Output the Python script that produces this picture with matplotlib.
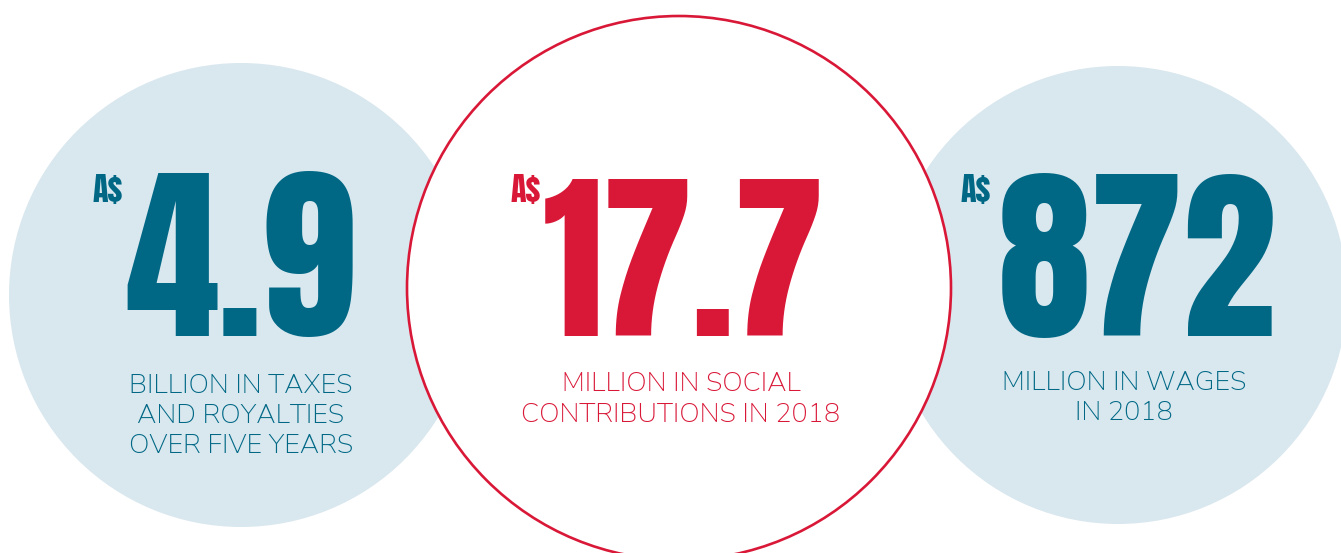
import matplotlib
matplotlib.use('Agg')
import matplotlib.pyplot as plt
from matplotlib.patches import Circle

# values shown in the three circles
amounts = ['4.9', '17.7', '872']
prefixes = ['A$', 'A$', 'A$']
captions = [['BILLION IN TAXES', 'AND ROYALTIES', 'OVER FIVE YEARS'],
            ['MILLION IN SOCIAL', 'CONTRIBUTIONS IN 2018'],
            ['MILLION IN WAGES', 'IN 2018']]

blue = '#006885'
red = '#d91838'
light = '#d9e7ef'
text_colors = [blue, red, blue]

W, H = 1341, 553
fig = plt.figure(figsize=(W / 100, H / 100), dpi=100)
ax = fig.add_axes([0, 0, 1, 1])
ax.set_xlim(0, W)
ax.set_ylim(H, 0)
ax.set_aspect('equal')
ax.axis('off')

# circles (pixel layout)
centers = [(241, 295), (679, 288), (1118, 295)]
radii = [232, 272, 229]
ax.add_patch(Circle(centers[0], radii[0], facecolor=light, edgecolor='none', zorder=1))
ax.add_patch(Circle(centers[2], radii[2], facecolor=light, edgecolor='none', zorder=1))
ax.add_patch(Circle(centers[1], radii[1], facecolor='white', edgecolor=red, lw=1.9, zorder=2))

num_x = [240, 684, 1137]
num_size = [136, 131, 135]
pre_x = [93, 511, 961]
cap_x = [241, 681, 1124]
cap_y0 = [393, 391, 390]
pitch = [30, 31, 29.5]

for i in range(3):
    ax.text(num_x[i], 336, amounts[i], ha='center', va='baseline',
            fontsize=num_size[i], family='Anton', color=text_colors[i], zorder=3)
    ax.text(pre_x[i], 202, prefixes[i], ha='left', va='baseline',
            fontsize=23, family='Anton', color=text_colors[i], zorder=3)
    for j, line in enumerate(captions[i]):
        ax.text(cap_x[i], cap_y0[i] + j * pitch[i], line, ha='center', va='baseline',
                fontsize=19.5, family='Nunito Sans', weight=300,
                color=text_colors[i], zorder=3)

fig.savefig('out.png', dpi=100)
